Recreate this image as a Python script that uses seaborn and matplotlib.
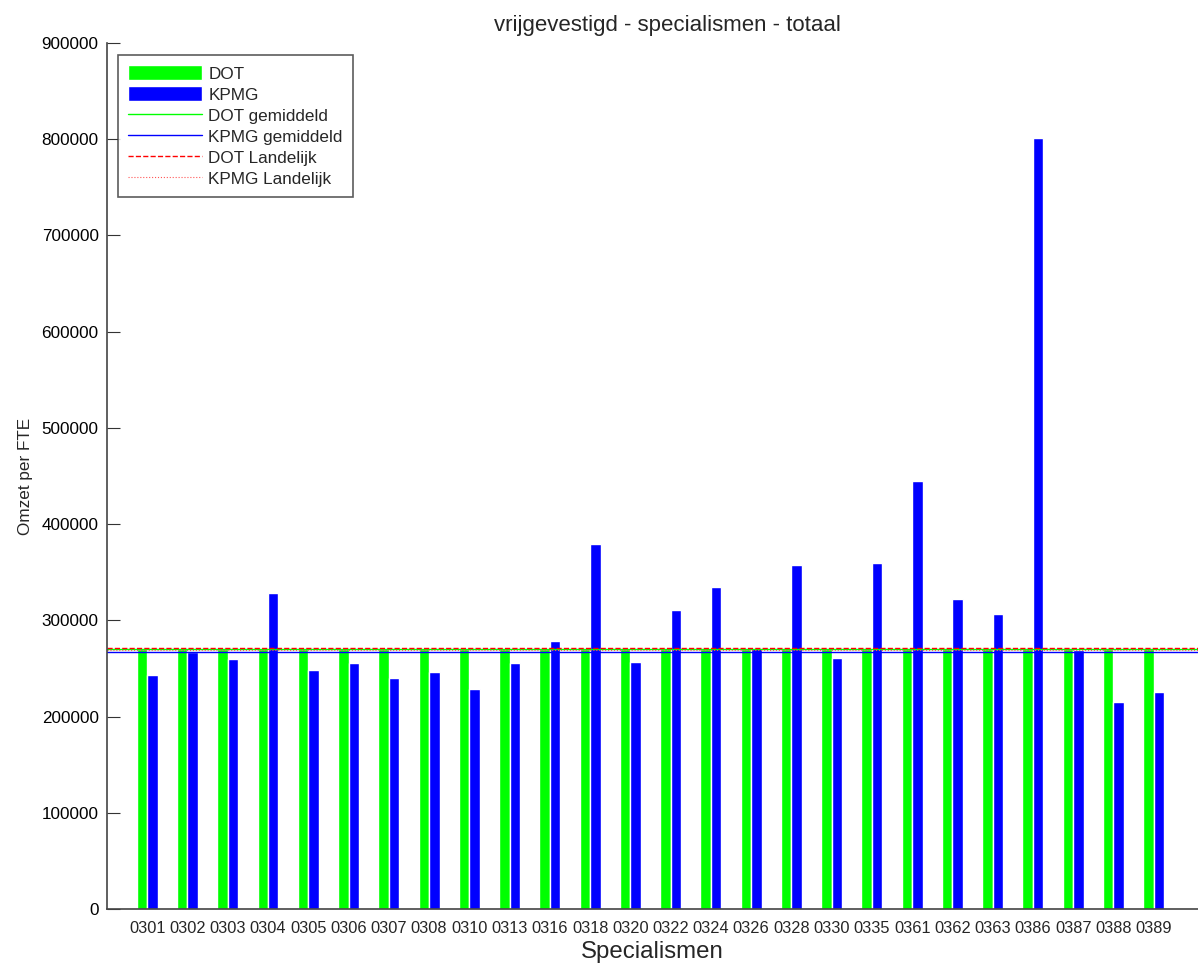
import pandas as pd
import matplotlib
matplotlib.use('Agg')
import matplotlib.pyplot as plt
import seaborn as sns

# specialisme codes en waarden
codes = ['0301', '0302', '0303', '0304', '0305', '0306', '0307', '0308', '0310', '0313',
         '0316', '0318', '0320', '0322', '0324', '0326', '0328', '0330', '0335', '0361',
         '0362', '0363', '0386', '0387', '0388', '0389']
dot = [270000] * len(codes)
kpmg = [243000, 267000, 260000, 328000, 248000, 256000, 240000, 246000, 229000, 256000,
        279000, 379000, 257000, 311000, 335000, 271000, 358000, 261000, 360000, 445000,
        322000, 307000, 801000, 269000, 215000, 226000]

dot_gem = 270000
kpmg_gem = 267500
dot_land = 271500
kpmg_land = 269500

df = pd.DataFrame({'code': codes * 2,
                   'bron': ['DOT'] * len(codes) + ['KPMG'] * len(codes),
                   'omzet': dot + kpmg})

sns.set_style('ticks')
plt.rcParams['font.family'] = ['Liberation Sans', 'DejaVu Sans']

fig = plt.figure(figsize=(11.98, 9.71), dpi=100)
ax = fig.add_axes([0.0893, 0.0639, 0.9107, 0.8918])

sns.barplot(data=df, x='code', y='omzet', hue='bron', order=codes,
            palette={'DOT': '#00ff00', 'KPMG': '#0000ff'},
            width=0.52, gap=0, saturation=1, errorbar=None, ax=ax)

ax.axhline(dot_gem, color='#00ff00', lw=1, label='DOT gemiddeld')
ax.axhline(kpmg_gem, color='#0000ff', lw=1, label='KPMG gemiddeld')
ax.axhline(dot_land, color='red', lw=1, ls='--', label='DOT Landelijk')
ax.axhline(kpmg_land, color='#ff5555', lw=0.8, ls=':', label='KPMG Landelijk')

ax.set_ylim(0, 900000)
ax.set_xlim(-1, len(codes) - 1 + 1.1)
ax.set_yticks(range(0, 900001, 100000))
ax.set_yticklabels([str(v) for v in range(0, 900001, 100000)])
ax.tick_params(axis='y', direction='in', length=9, labelsize=12.3, colors='#333333',
               labelcolor='black', pad=6)
ax.tick_params(axis='x', length=0, labelsize=11.8, pad=9)

for s in ['top', 'right']:
    ax.spines[s].set_visible(False)
for s in ['left', 'bottom']:
    ax.spines[s].set_color('#444444')
    ax.spines[s].set_linewidth(1.2)

ax.set_title('vrijgevestigd - specialismen - totaal', fontsize=16, pad=9, x=0.514)
ax.set_xlabel('Specialismen', fontsize=17.3, labelpad=3)
ax.set_ylabel('Omzet per FTE', fontsize=12.3, labelpad=6)

handles, labels = ax.get_legend_handles_labels()
leg = ax.legend(handles, labels, loc='upper left', bbox_to_anchor=(0.010, 0.986),
                borderaxespad=0, fontsize=12.3, handlelength=4.3, handleheight=0.95,
                frameon=True, fancybox=False, edgecolor='#333333', borderpad=0.6,
                labelspacing=0.28, handletextpad=0.4)
leg.get_frame().set_linewidth(1.2)

fig.savefig('out.png', dpi=100)
